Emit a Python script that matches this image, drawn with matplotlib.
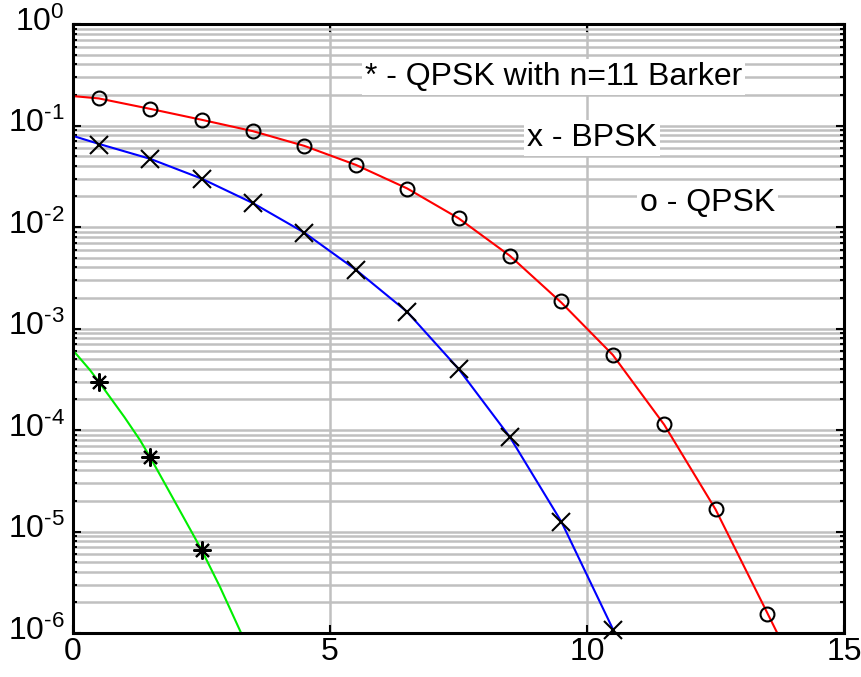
import numpy as np
import matplotlib.pyplot as plt
import matplotlib.transforms as mtransforms
from matplotlib.ticker import LogLocator, NullFormatter, FuncFormatter

plt.rcParams['font.family'] = ['Liberation Sans', 'DejaVu Sans']
plt.rcParams['mathtext.fontset'] = 'custom'
plt.rcParams['mathtext.rm'] = 'Liberation Sans'
plt.rcParams['axes.unicode_minus'] = False

# simulated curves
qpsk_x = [0, 0.5, 1.5, 2.5, 3.5, 4.5, 5.5, 6.5, 7.5, 8.5, 9.5, 10.5, 11.5, 12.5, 13.5, 13.7]
qpsk_y = [0.195, 0.185, 0.146, 0.114, 0.088, 0.063, 0.041, 0.024, 0.0122, 0.0052,
          0.0018, 0.00055, 0.000113, 1.65e-5, 1.6e-6, 1.0e-6]
bpsk_x = [0, 0.5, 1.5, 2.5, 3.5, 4.5, 5.5, 6.5, 7.5, 8.5, 9.5, 10.5, 10.6]
bpsk_y = [0.079, 0.066, 0.047, 0.030, 0.0172, 0.0088, 0.0038, 0.00146, 0.0004,
          8.5e-5, 1.25e-5, 1.1e-6, 8e-7]
barker_x = [0, 0.33, 0.5, 1.0, 1.3, 1.5, 1.75, 2.04, 2.5, 2.86, 3.27]
barker_y = [6.1e-4, 3.9e-4, 3.0e-4, 1.34e-4, 8e-5, 5.4e-5, 3.2e-5, 1.74e-5,
            6.6e-6, 2.84e-6, 1e-6]

# theoretical points (markers)
mk_x = [0.5, 1.5, 2.5, 3.5, 4.5, 5.5, 6.5, 7.5, 8.5, 9.5, 10.5, 11.5, 12.5, 13.5]
qpsk_mk = [0.187, 0.145, 0.113, 0.0883, 0.0628, 0.0408, 0.0237, 0.0123, 0.00518,
           0.00187, 0.000548, 0.000115, 1.67e-5, 1.54e-6]
bpsk_mk = [0.0643, 0.0468, 0.0297, 0.0172, 0.00873, 0.00377, 0.00146, 0.000399,
           8.5e-5, 1.24e-5, 1.07e-6]
barker_mk = [2.97e-4, 5.42e-5, 6.57e-6]


def exp_label(v, pos):
    e = int(round(np.log10(v)))
    return r'$\mathregular{10^{\text{%d}}}$' % e


fig = plt.figure(figsize=(8.62, 6.77), dpi=100)
ax = fig.add_axes([0.0847, 0.065, 0.8945, 0.8995])

ax.semilogy(qpsk_x, qpsk_y, color='#ff0000', lw=1.5)
ax.semilogy(bpsk_x, bpsk_y, color='#0000ff', lw=1.5)
ax.semilogy(barker_x, barker_y, color='#00ee00', lw=1.5)

ax.plot(mk_x, qpsk_mk, 'o', mfc='none', mec='k', ms=10, mew=1.5)
ax.plot(mk_x[:len(bpsk_mk)], bpsk_mk, 'x', color='k', ms=13, mew=1.5, clip_on=False)
ax.plot(mk_x[:len(barker_mk)], barker_mk, marker=(8, 2, 0), ls='none', color='k', ms=13, mew=1.5)

ax.set_xlim(0, 15)
ax.set_ylim(1e-6, 1)
ax.set_xticks([0, 5, 10, 15])
ax.yaxis.set_major_locator(LogLocator(base=10, numticks=10))
ax.yaxis.set_major_formatter(FuncFormatter(exp_label))
ax.yaxis.set_minor_locator(LogLocator(base=10, subs=np.arange(2, 10), numticks=20))
ax.yaxis.set_minor_formatter(NullFormatter())

ax.grid(True, which='major', color='#c0c0c0', lw=1.8)
ax.grid(True, which='minor', axis='y', color='#c0c0c0', lw=1.8)
ax.set_axisbelow(True)

ax.tick_params(which='both', direction='in', top=True, right=True, labelsize=23,
               width=1.5, color='k')
ax.tick_params(which='major', length=6)
ax.tick_params(which='minor', length=3)
ax.tick_params(axis='x', pad=3)
ax.tick_params(axis='y', pad=6)
for s in ax.spines.values():
    s.set_linewidth(2.2)

# lift the y labels so the "10" sits on the tick, as in the original
shift = mtransforms.ScaledTranslation(0, 4 / 72, fig.dpi_scale_trans)
for lab in ax.get_yticklabels():
    lab.set_transform(lab.get_transform() + shift)

box = dict(facecolor='white', edgecolor='none', pad=2)
ax.text(5.68, 0.30, '* - QPSK with n=11 Barker', fontsize=23, va='center', bbox=box)
ax.text(8.83, 0.0753, 'x - BPSK', fontsize=23, va='center', bbox=box)
ax.text(11.03, 0.0172, 'o - QPSK', fontsize=23, va='center', bbox=box)

fig.savefig('out.png', dpi=100)
